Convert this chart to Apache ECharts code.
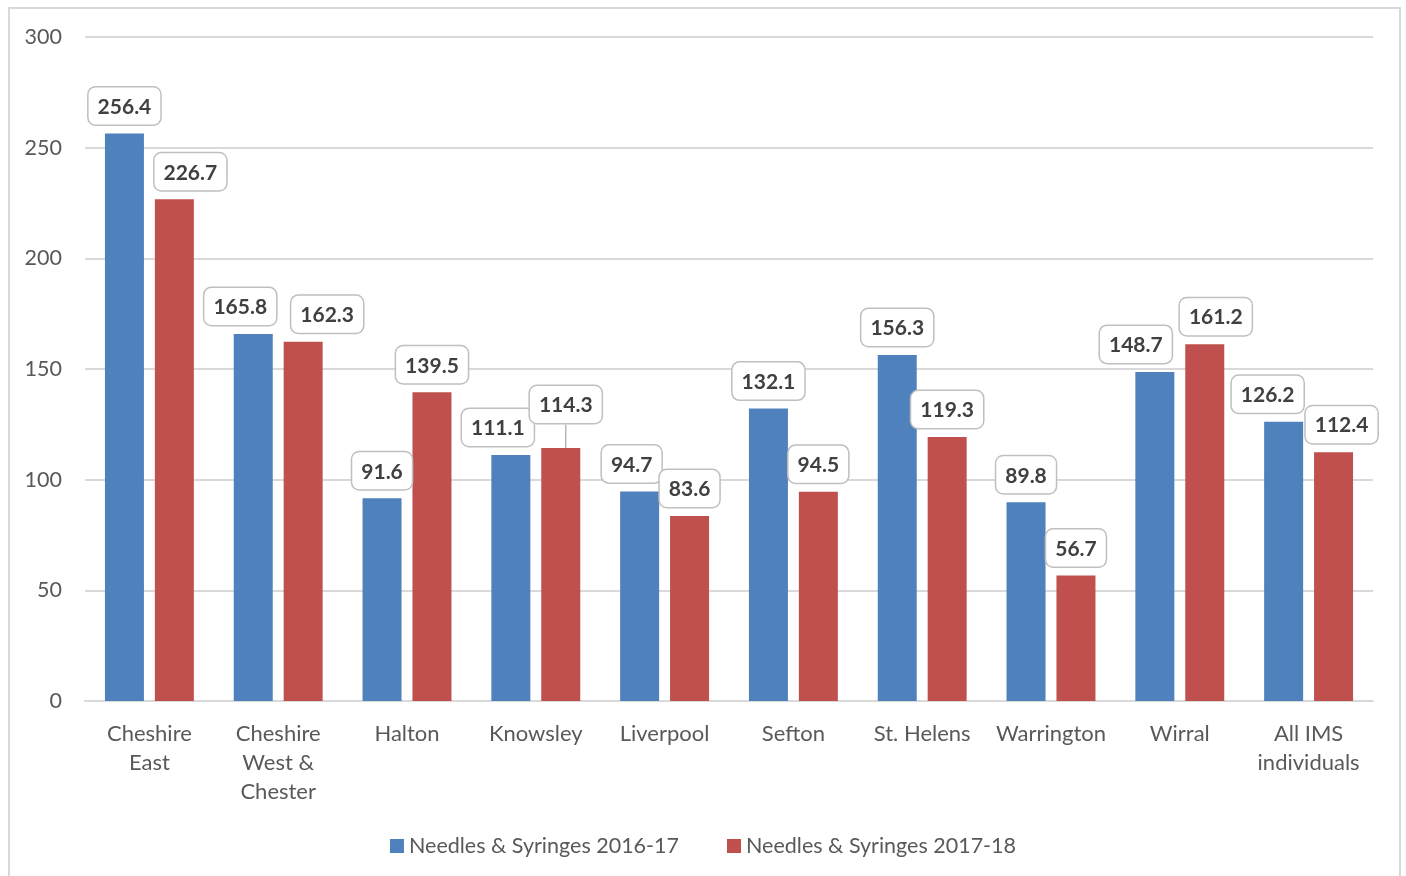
<!DOCTYPE html>
<html><head><meta charset="utf-8">
<script src="https://cdn.jsdelivr.net/npm/echarts@6/dist/echarts.min.js"></script>
<style>html,body{margin:0;padding:0;background:#fff}#frame{position:absolute;left:8px;top:7px;width:1393px;height:880px;border:2px solid #d9d9d9;box-sizing:border-box}#c{position:absolute;left:0;top:0;width:1406px;height:876px}</style>
</head><body><div id="frame"></div><div id="c"></div>
<script>
const categories = ['Cheshire\nEast','Cheshire\nWest &\nChester','Halton','Knowsley','Liverpool','Sefton','St. Helens','Warrington','Wirral','All IMS\nindividuals'];
const seriesNames = ['Needles & Syringes 2016-17','Needles & Syringes 2017-18'];
const values1617 = [256.4,165.8,91.6,111.1,94.7,132.1,156.3,89.8,148.7,126.2];
const values1718 = [226.7,162.3,139.5,114.3,83.6,94.5,119.3,56.7,161.2,112.4];
const yTicks = {min:0,max:300,interval:50};
// label nudges (layout only)
const off1617 = [[0,0],[-13,0],[0,0],[-13,0],[-8,0],[0,0],[0,0],[0,0],[-19,0],[-16,0]];
const off1718 = [[16,0],[24,0],[0,0],[5,-16],[0,0],[0,0],[0,0],[0,0],[11,0],[8,0]];
const leaderIdx1718 = [3];

const FONT = 'Lato, "Open Sans", sans-serif';
const chart = echarts.init(document.getElementById('c'));
function lbl(){return {show:true,position:'top',distance:9,fontFamily:FONT,fontSize:21,fontWeight:'bold',color:'#404040',
  backgroundColor:'#fff',borderColor:'#bfbfbf',borderWidth:1.5,borderRadius:7,padding:[9,9,7,9]};}
chart.setOption({
  animation:false,
  grid:{left:85,right:33,top:37,bottom:175},
  legend:{bottom:14,left:'center',itemWidth:14,itemHeight:14,itemGap:48,icon:'rect',
    textStyle:{fontFamily:FONT,fontSize:21.5,color:'#595959'},data:seriesNames},
  xAxis:{type:'category',data:categories,axisTick:{show:false},
    axisLine:{lineStyle:{color:'#d9d9d9',width:2}},
    axisLabel:{fontFamily:FONT,fontSize:22,color:'#595959',lineHeight:29,margin:18,interval:0}},
  yAxis:{type:'value',min:yTicks.min,max:yTicks.max,interval:yTicks.interval,
    axisLine:{show:false},axisTick:{show:false},
    splitLine:{lineStyle:{color:'#d9d9d9',width:2}},
    axisLabel:{fontFamily:FONT,fontSize:21.5,color:'#595959',margin:23}},
  series:[
    {name:seriesNames[0],type:'bar',barWidth:39,barGap:'28%',itemStyle:{color:'#4f81bd'},label:lbl(),
      data:values1617.map((v,i)=>({value:v,label:{offset:off1617[i]}}))},
    {name:seriesNames[1],type:'bar',barWidth:39,itemStyle:{color:'#c0504d'},label:lbl(),
      labelLine:{show:false,lineStyle:{color:'#a6a6a6',width:1.2}},
      labelLayout:function(p){const m=off1718[p.dataIndex];return {dx:m[0],dy:m[1]};},
      data:values1718.map((v,i)=>leaderIdx1718.includes(i)?{value:v,labelLine:{show:true,lineStyle:{color:'#a6a6a6',width:1.2}}}:v)}
  ]
});
</script></body></html>
